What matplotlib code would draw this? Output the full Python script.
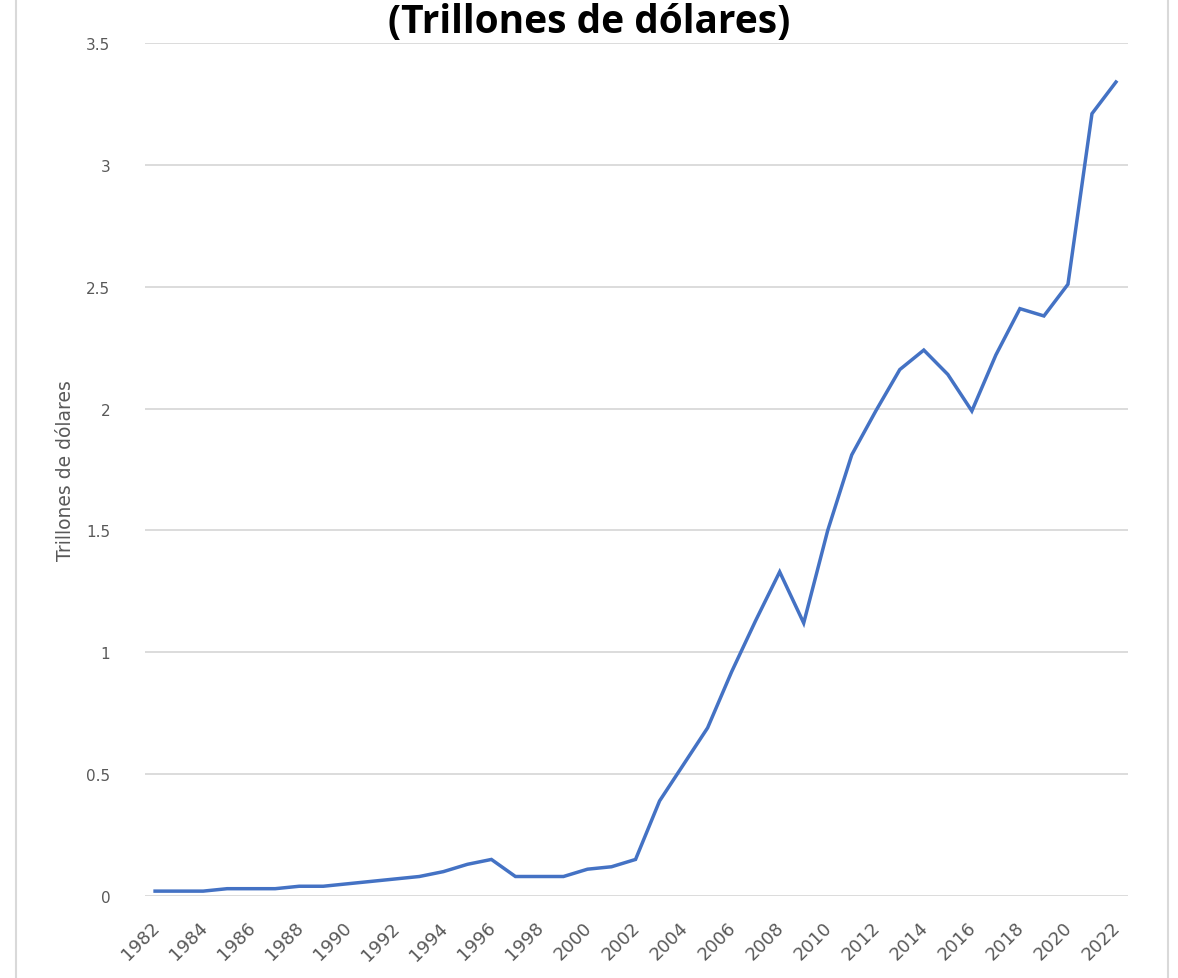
import matplotlib
matplotlib.use("Agg")
import matplotlib.pyplot as plt
import matplotlib.transforms as mtransforms
from matplotlib.lines import Line2D

years = list(range(1982, 2023))
values = [0.02, 0.02, 0.02, 0.03, 0.03, 0.03, 0.04, 0.04, 0.05, 0.06,
          0.07, 0.08, 0.10, 0.13, 0.15, 0.08, 0.08, 0.08, 0.11, 0.12,
          0.15, 0.39, 0.54, 0.69, 0.92, 1.13, 1.33, 1.12, 1.50, 1.81,
          1.99, 2.16, 2.24, 2.14, 1.99, 2.22, 2.41, 2.38, 2.51, 3.21,
          3.34]
xtick_years = list(range(1982, 2023, 2))
yticks = [0, 0.5, 1, 1.5, 2, 2.5, 3, 3.5]
ytick_labels = ["0", "0.5", "1", "1.5", "2", "2.5", "3", "3.5"]
title = "(Trillones de dólares)"
ylabel = "Trillones de dólares"

fig = plt.figure(figsize=(11.78, 9.79), dpi=100)
ax = fig.add_axes([145/1178, 82/979, 983/1178, 853/979])

ax.plot(years, values, color="#4472C4", linewidth=2.5, solid_joinstyle="miter")
ax.set_xlim(1981.58, 2022.5)
ax.set_ylim(0, 3.5)
ax.set_yticks(yticks)
ax.set_yticklabels(ytick_labels)
ax.set_xticks(xtick_years)
ax.set_xticklabels([str(y) for y in xtick_years], rotation=45, ha="right",
                   rotation_mode="anchor")
ax.grid(axis="y", color="#d9d9d9", linewidth=1.3)
ax.set_axisbelow(True)
for s in ax.spines.values():
    s.set_visible(False)
ax.tick_params(axis="both", length=0, colors="#595959")
ax.tick_params(axis="y", pad=25, labelsize=11)
ax.tick_params(axis="x", pad=16, labelsize=13)
offset = mtransforms.ScaledTranslation(-5/100, 0, fig.dpi_scale_trans)
for lab in ax.get_xticklabels():
    lab.set_transform(lab.get_transform() + offset)
ax.set_ylabel(ylabel, color="#595959", fontsize=13.5)
ax.yaxis.set_label_coords(-0.071, 0.5)

fig.text(0.5, 1 - 33/979, title, ha="center", va="baseline", fontsize=28,
         fontweight="bold", family="Open Sans")

# outer chart frame lines
fig.add_artist(Line2D([16/1178, 16/1178], [0, 1], color="#d9d9d9", linewidth=1.5))
fig.add_artist(Line2D([1168/1178, 1168/1178], [0, 1], color="#d9d9d9", linewidth=1.5))

fig.savefig("out.png", dpi=100)
